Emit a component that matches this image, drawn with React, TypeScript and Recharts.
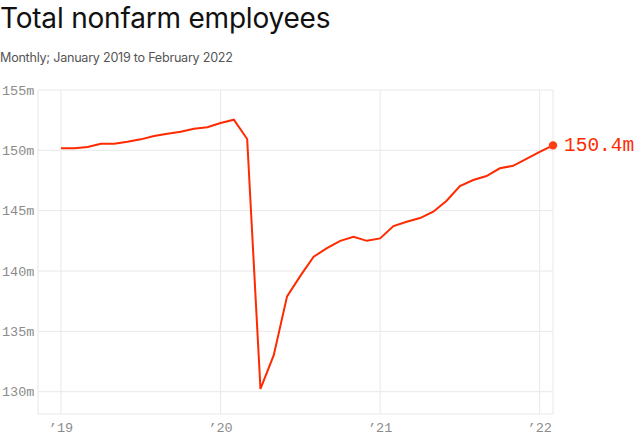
import { LineChart, Line, XAxis, YAxis, CartesianGrid } from "recharts";

const months = [
  "2019-01", "2019-02", "2019-03", "2019-04", "2019-05", "2019-06", "2019-07", "2019-08", "2019-09", "2019-10", "2019-11", "2019-12",
  "2020-01", "2020-02", "2020-03", "2020-04", "2020-05", "2020-06", "2020-07", "2020-08", "2020-09", "2020-10", "2020-11", "2020-12",
  "2021-01", "2021-02", "2021-03", "2021-04", "2021-05", "2021-06", "2021-07", "2021-08", "2021-09", "2021-10", "2021-11", "2021-12",
  "2022-01", "2022-02",
];

// millions of employees
const employees = [
  150.17, 150.17, 150.27, 150.55, 150.55, 150.71, 150.91, 151.19, 151.38, 151.54, 151.79, 151.91,
  152.26, 152.54, 150.94, 130.23, 133.03, 137.9, 139.6, 141.18, 141.9, 142.5, 142.84, 142.5,
  142.7, 143.72, 144.08, 144.39, 144.91, 145.82, 147.04, 147.54, 147.87, 148.51, 148.72, 149.3,
  149.88, 150.41,
];

const yearTicks = [0, 12, 24, 36];
const yearLabels = ["\u201919", "\u201920", "\u201921", "\u201922"];
const valueTicks = [130, 135, 140, 145, 150, 155];

const chartData = months.map((m, i) => ({ i, month: m, value: employees[i] }));

const MONO = "'Liberation Mono', 'DejaVu Sans Mono', monospace";
const SANS = "Inter, 'Noto Sans', sans-serif";
const RED = "#ff2a00";

const YTick = (props: any) => {
  const { y, payload } = props;
  return (
    <text x={2} y={y} dy={4.5} fill="#8c8c8c" fontSize={13.5} fontFamily={MONO} textAnchor="start">
      {payload.value}m
    </text>
  );
};

const XTick = (props: any) => {
  const { x, y, payload } = props;
  const idx = yearTicks.indexOf(payload.value);
  return (
    <text x={x} y={y} dy={10} fill="#8c8c8c" fontSize={13.5} fontFamily={MONO} textAnchor="middle">
      {yearLabels[idx]}
    </text>
  );
};

const EndDot = (props: any) => {
  const { cx, cy, index } = props;
  if (index !== employees.length - 1) return <g key={index} />;
  return (
    <g key={index}>
      <circle cx={cx} cy={cy} r={4.2} fill="#ff3d14" />
      <text x={cx + 11} y={cy} dy={6} fill={RED} fontSize={19.5} fontFamily={MONO}>
        {employees[index].toFixed(1)}m
      </text>
    </g>
  );
};

export default function App() {
  return (
    <div style={{ position: "absolute", left: 0, top: 0, width: 640, height: 437, background: "#fff" }}>
      <div style={{ position: "absolute", left: 0, top: 1, fontFamily: SANS, fontSize: 28, color: "#111", letterSpacing: -0.2 }}>
        Total nonfarm employees
      </div>
      <div style={{ position: "absolute", left: 0, top: 50, fontFamily: SANS, fontSize: 12.6, color: "#555", letterSpacing: -0.25 }}>
        Monthly; January 2019 to February 2022
      </div>
      <LineChart
        width={640}
        height={437}
        data={chartData}
        margin={{ top: 90, right: 87, bottom: 0, left: 0 }}
        style={{ position: "absolute", left: 0, top: 0 }}
      >
        <CartesianGrid stroke="#e8e8e8" strokeWidth={1} />
        <XAxis
          dataKey="i"
          type="number"
          domain={[0, 37]}
          ticks={yearTicks}
          padding={{ left: 23, right: 0 }}
          axisLine={false}
          tickLine={false}
          height={23}
          tick={<XTick />}
        />
        <YAxis
          type="number"
          domain={[128.15, 155]}
          ticks={valueTicks}
          allowDataOverflow
          axisLine={false}
          tickLine={false}
          width={38}
          tick={<YTick />}
        />
        <Line
          type="linear"
          dataKey="value"
          stroke={RED}
          strokeWidth={2}
          dot={<EndDot />}
          activeDot={false}
          isAnimationActive={false}
        />
      </LineChart>
    </div>
  );
}
